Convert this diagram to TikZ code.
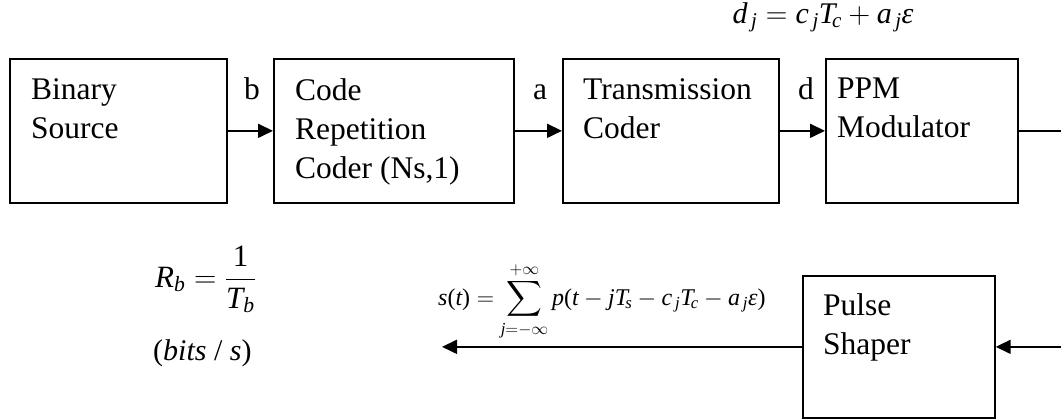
\RequirePackage{fix-cm}
\documentclass[tikz,border=0pt]{standalone}
\usepackage{amsmath}
\usepackage{fontspec}
\setmainfont{Liberation Serif}
\usetikzlibrary{arrows.meta}
\newcommand\vv[1]{\textit{#1}}
\newcommand\lpar{\textup{(}}
\newcommand\rpar{\textup{)}}
\tikzset{
  blk/.style={draw, line width=1.7pt, inner sep=0pt, anchor=north west},
  txt/.style={font=\fontsize{31.5}{39}\selectfont, align=left, inner sep=0pt, anchor=north west},
  lbl/.style={font=\fontsize{31.5}{39}\selectfont, inner sep=0pt, anchor=base},
  conn/.style={line width=1.7pt, -{Triangle[length=15pt,width=14pt]}},
  plain/.style={line width=1.7pt},
}
\begin{document}
\begin{tikzpicture}[x=1pt,y=-1pt]
\useasboundingbox (0,0) rectangle (1061,418);
% boxes
\node[blk, minimum width=217pt, minimum height=144pt] (bin) at (9,58) {};
\node[blk, minimum width=240pt, minimum height=144pt] (rep) at (273,58) {};
\node[blk, minimum width=216pt, minimum height=144pt] (tra) at (562,58) {};
\node[blk, minimum width=192pt, minimum height=144pt] (ppm) at (825,58) {};
\node[blk, minimum width=192pt, minimum height=142pt] (pul) at (802,275) {};
% box texts
\node[txt] (bint) at (31,78) {Binary\\Source};
\node[txt] (rept) at (295,78) {Code\\Repetition\\Coder (Ns,1)};
\node[txt] (trat) at (583,78) {Transmission\\Coder};
\node[txt] (ppmt) at (837,78) {PPM\\Modulator};
\node[txt] (pult) at (823,293) {Pulse\\Shaper};
% labels
\node[lbl] (lb) at (252,99) {b};
\node[lbl] (la) at (540,99) {a};
\node[lbl] (ld) at (806,99) {d};
% coordinates
\coordinate (edgeR) at (1061,0);
\coordinate (edgeL) at (442,0);
\coordinate (outR) at (ppm.east -| edgeR);
\coordinate (inR) at (pul.east -| edgeR);
\coordinate (outL) at (pul.west -| edgeL);
% connectors
\draw[conn] (bin.east) -- (rep.west);
\draw[conn] (rep.east) -- (tra.west);
\draw[conn] (tra.east) -- (ppm.west);
\draw[plain] (ppm.east) -- (outR);
\draw[conn] (inR) -- (pul.east);
\draw[conn] (pul.west) -- (outL);
% formulas
\node[inner sep=0pt, anchor=base, font=\fontsize{30}{36}\selectfont] (fd) at (823,23)
  {$\vv{d}_{\,\vv{j}} = \vv{c}_{\,\vv{j}}\vv{T}_{\!\vv{c}} + \vv{a}_{\,\vv{j}}\vv{ε}$};
\node[inner sep=0pt, anchor=base west, font=\fontsize{31}{36}\selectfont] (frb) at (155,287)
  {$\vv{R}_{\vv{b}} = \dfrac{\textup{1}}{\vv{T}_{\vv{b}}}$};
\node[inner sep=0pt, anchor=base west, font=\fontsize{30}{36}\selectfont] (fbs) at (153,360)
  {\lpar\vv{bits} / \vv{s}\rpar};
\node[inner sep=0pt, anchor=base west, font=\fontsize{24}{28}\selectfont] (fs) at (438,305)
  {$\vv{s}\lpar\vv{t}\rpar = \displaystyle\sum_{\vv{j}=-\infty}^{+\infty} \vv{p}\lpar\vv{t} - \vv{j}\vv{T}_{\!\vv{s}} - \vv{c}_{\,\vv{j}}\vv{T}_{\!\vv{c}} - \vv{a}_{\,\vv{j}}\vv{ε}\rpar$};
\end{tikzpicture}
\end{document}
